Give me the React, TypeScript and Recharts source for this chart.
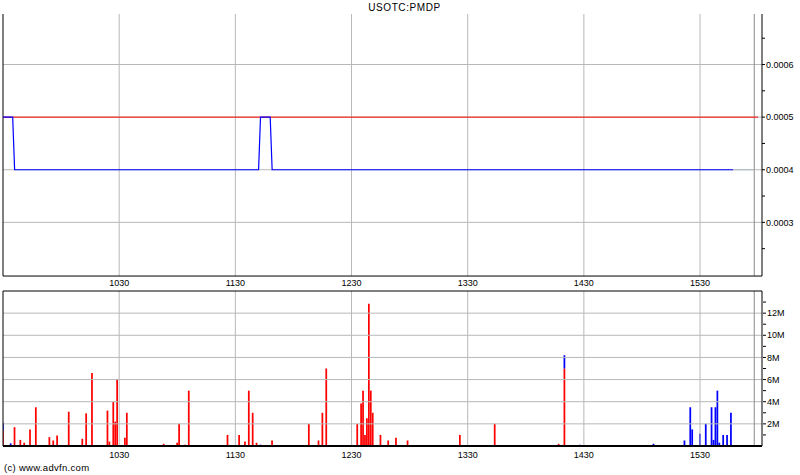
import React from "react"
import { ComposedChart, Line, Bar, XAxis, YAxis, ReferenceLine } from "recharts"

// Intraday chart: price pane over volume pane, drawn in one chart so every layer renders.
// X values are minutes after 09:30.

const TITLE = "USOTC:PMDP"
const COPYRIGHT = "(c) www.advfn.com"

const SESSION_END = 392
const CLOSE_MARK = 388
const timeTicks = [60, 120, 180, 240, 300, 360]
const timeLabels = ["1030", "1130", "1230", "1330", "1430", "1530"]

const priceMinutes = [0, 5, 6, 132, 133, 138, 139, 377]
const priceValues = [0.0005, 0.0005, 0.0004, 0.0004, 0.0005, 0.0005, 0.0004, 0.0004]
const tailMinutes = [377, 388]
const tailValues = [0.0004, 0.0004]
const prevClose = 0.0005
const priceTicks = [0.00025, 0.0003, 0.00035, 0.0004, 0.00045, 0.0005, 0.00055, 0.0006, 0.00065]
const priceGrid = [0.0003, 0.0004, 0.0005, 0.0006]

// volume in millions
const redMinutes = [0, 6, 9, 11, 14, 17, 24, 26, 28, 34, 41, 43, 46, 54, 55, 57, 58, 59, 63, 64, 83, 90, 91, 94, 96, 116, 122, 125, 127, 129, 131, 139, 158, 163, 165, 167, 183, 185, 186, 187, 188, 189, 190, 191, 195, 199, 203, 209, 236, 254, 287, 290]
const redVolumes = [1.4, 1.7, 0.55, 0.3, 1.5, 3.5, 0.8, 0.5, 0.95, 3.1, 0.65, 2.95, 6.6, 3.2, 0.4, 4.0, 2.2, 6.0, 0.75, 3.0, 0.2, 0.3, 2.0, 0.12, 5.0, 1.0, 1.0, 0.4, 5.0, 3.0, 0.3, 0.5, 2.0, 0.5, 3.0, 7.0, 2.0, 3.85, 5.0, 1.0, 2.5, 12.85, 5.0, 3.0, 1.0, 0.5, 0.75, 0.5, 1.0, 2.0, 0.2, 7.0]
const blueMinutes = [0, 4, 133, 290, 298, 336, 352, 355, 356, 360, 363, 366, 367, 368, 369, 370, 372, 374, 376]
const blueVolumes = [0.7, 0.24, 0.12, 1.2, 0.12, 0.2, 0.5, 3.5, 1.5, 1.1, 2.0, 3.5, 0.55, 3.5, 5.0, 0.3, 1.0, 1.0, 3.0]
const volTicks = [1, 2, 3, 4, 5, 6, 7, 8, 9, 10, 11, 12, 13]
const volGrid = [2, 4, 6, 8, 10, 12]

// pane extents: price pane spans PRICE_LOW..PRICE_HIGH, volume pane 0..VOL_HIGH;
// each axis domain is stretched so its pane only fills its own part of the plot
const PRICE_LOW = 0.000198
const PRICE_HIGH = 0.000696
const PRICE_AXIS_MIN = -0.000125
const VOL_HIGH = 14
const VOL_AXIS_MAX = 39.02

const FONT = "'Liberation Sans', Arial, sans-serif"
const GRID = "#b8b8b8"
const BORDER = "#000"

const priceData = priceMinutes.map((m, i) => ({ m, price: priceValues[i] }))
const tailData = tailMinutes.map((m, i) => ({ m, tail: tailValues[i] }))

const volMap = new Map<number, { m: number; red: number; blue: number }>()
redMinutes.forEach((m, i) => {
  const row = volMap.get(m) ?? { m, red: 0, blue: 0 }
  row.red = redVolumes[i]
  volMap.set(m, row)
})
blueMinutes.forEach((m, i) => {
  const row = volMap.get(m) ?? { m, red: 0, blue: 0 }
  row.blue = blueVolumes[i]
  volMap.set(m, row)
})
const volData = Array.from(volMap.values()).sort((a, b) => a.m - b.m)

const formatTime = (v: number) => timeLabels[timeTicks.indexOf(v)] ?? ""

const PriceTick = (props: any) => {
  const { x, y, payload } = props
  const v = payload.value as number
  if (Math.round(v * 100000) % 10 !== 0) return <g />
  return (
    <text x={x} y={y} dy="0.35em" fontSize={9} fontFamily={FONT} fill="#000" textAnchor="start">
      {v.toFixed(4)}
    </text>
  )
}

const VolTick = (props: any) => {
  const { x, y, payload } = props
  const v = payload.value as number
  if (v % 2 !== 0) return <g />
  return (
    <text x={x} y={y} dy="0.35em" fontSize={9} fontFamily={FONT} fill="#000" textAnchor="start">
      {v}M
    </text>
  )
}

const timeTickStyle = { fontSize: 9, fontFamily: FONT, fill: "#000" }

export default function App() {
  return (
    <div style={{ position: "absolute", left: 0, top: 0, width: 800, height: 475, background: "#fff", overflow: "hidden" }}>
      <div style={{ position: "absolute", left: 0, width: 809, top: 2, textAlign: "center", fontSize: 10, fontFamily: FONT, letterSpacing: 0.6, lineHeight: "12px" }}>
        {TITLE}
      </div>

      <div style={{ position: "absolute", left: 0, top: 0 }}>
        <ComposedChart width={800} height={475} data={volData} margin={{ top: 14, right: 36, bottom: 15, left: 1 }}>
          <XAxis
            dataKey="m"
            type="number"
            domain={[0, SESSION_END]}
            ticks={timeTicks}
            interval={0}
            tickFormatter={formatTime}
            allowDataOverflow
            height={14}
            tickLine={false}
            tickSize={2}
            tickMargin={4}
            axisLine={{ stroke: BORDER, strokeWidth: 2 }}
            tick={timeTickStyle}
          />
          <XAxis xAxisId="top" orientation="top" type="number" domain={[0, SESSION_END]} height={0} tick={false} tickLine={false} axisLine={{ stroke: BORDER }} />

          <YAxis yAxisId="price" orientation="right" width={1} type="number" domain={[PRICE_AXIS_MIN, PRICE_HIGH]} allowDataOverflow ticks={priceTicks} interval={0} tick={<PriceTick />} tickSize={3} tickMargin={1} axisLine={false} tickLine={{ stroke: BORDER }} />
          <YAxis yAxisId="vol" orientation="right" width={1} type="number" domain={[0, VOL_AXIS_MAX]} allowDataOverflow ticks={volTicks} interval={0} tick={<VolTick />} tickSize={3} tickMargin={1} axisLine={false} tickLine={{ stroke: BORDER }} />
          <YAxis yAxisId="priceLeft" orientation="left" width={1} type="number" domain={[PRICE_AXIS_MIN, PRICE_HIGH]} allowDataOverflow ticks={priceTicks} interval={0} tick={false} tickSize={3} axisLine={false} tickLine={{ stroke: BORDER }} />
          <YAxis yAxisId="volLeft" orientation="left" width={1} type="number" domain={[0, VOL_AXIS_MAX]} allowDataOverflow ticks={volTicks} interval={0} tick={false} tickSize={3} axisLine={false} tickLine={{ stroke: BORDER }} />

          {/* price pane grid */}
          {priceGrid.map((v) => (
            <ReferenceLine key={`pg${v}`} yAxisId="price" y={v} stroke={GRID} />
          ))}
          {timeTicks.map((t, i) => (
            <ReferenceLine
              key={`pv${t}`}
              yAxisId="price"
              segment={[{ x: t, y: PRICE_LOW }, { x: t, y: PRICE_HIGH }]}
              stroke={GRID}
              label={{ value: timeLabels[i], position: "bottom", offset: 4, fontSize: 9, fontFamily: FONT, fill: "#000" }}
            />
          ))}
          <ReferenceLine yAxisId="price" segment={[{ x: CLOSE_MARK, y: PRICE_LOW }, { x: CLOSE_MARK, y: PRICE_HIGH }]} stroke="#8a8a8a" />

          {/* volume pane grid */}
          {volGrid.map((v) => (
            <ReferenceLine key={`vg${v}`} yAxisId="vol" y={v} stroke={GRID} />
          ))}
          {timeTicks.map((t) => (
            <ReferenceLine key={`vv${t}`} yAxisId="vol" segment={[{ x: t, y: 0 }, { x: t, y: VOL_HIGH }]} stroke={GRID} />
          ))}
          <ReferenceLine yAxisId="vol" segment={[{ x: CLOSE_MARK, y: 0 }, { x: CLOSE_MARK, y: VOL_HIGH }]} stroke="#8a8a8a" />

          {/* pane borders */}
          <ReferenceLine yAxisId="price" y={PRICE_LOW} stroke={BORDER} />
          <ReferenceLine yAxisId="price" segment={[{ x: 0, y: PRICE_LOW }, { x: 0, y: PRICE_HIGH }]} stroke={BORDER} />
          <ReferenceLine yAxisId="price" segment={[{ x: SESSION_END, y: PRICE_LOW }, { x: SESSION_END, y: PRICE_HIGH }]} stroke={BORDER} />
          <ReferenceLine yAxisId="vol" y={VOL_HIGH} stroke={BORDER} />
          <ReferenceLine yAxisId="vol" segment={[{ x: 0, y: 0 }, { x: 0, y: VOL_HIGH }]} stroke={BORDER} />
          <ReferenceLine yAxisId="vol" segment={[{ x: SESSION_END, y: 0 }, { x: SESSION_END, y: VOL_HIGH }]} stroke={BORDER} />

          {/* volume bars */}
          <Bar yAxisId="vol" dataKey="red" stackId="v" fill="#ff0000" barSize={2} isAnimationActive={false} />
          <Bar yAxisId="vol" dataKey="blue" stackId="v" fill="#0000ff" barSize={2} isAnimationActive={false} />

          {/* price */}
          <ReferenceLine yAxisId="price" segment={[{ x: 0, y: prevClose }, { x: 390, y: prevClose }]} stroke="#ff0000" />
          <Line yAxisId="price" data={tailData} dataKey="tail" type="linear" stroke="#a9bcc4" strokeWidth={1} dot={false} activeDot={false} isAnimationActive={false} />
          <Line yAxisId="price" data={priceData} dataKey="price" type="linear" stroke="#0000ff" strokeWidth={1.2} dot={false} activeDot={false} isAnimationActive={false} />
        </ComposedChart>
      </div>

      <div style={{ position: "absolute", left: 4, top: 462, fontSize: 9.5, fontFamily: FONT, lineHeight: "12px", letterSpacing: 0.3 }}>
        {COPYRIGHT}
      </div>
    </div>
  )
}
